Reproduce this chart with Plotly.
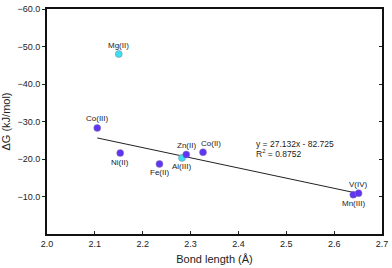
import plotly.graph_objects as go

labels = ["Mg(II)", "Co(III)", "Ni(II)", "Fe(II)", "Al(III)", "Zn(II)", "Co(II)", "Mn(III)", "V(IV)"]
bond_length = [2.150, 2.105, 2.153, 2.235, 2.282, 2.291, 2.326, 2.640, 2.651]
delta_g = [-48.0, -28.3, -21.6, -18.7, -20.3, -21.2, -21.8, -10.5, -10.9]
group = ["cyan", "purple", "purple", "purple", "cyan", "purple", "purple", "purple", "purple"]
label_side = ["above", "above", "below", "below", "below", "above", "above", "below", "above"]
label_dx = [0, 0, 0, 0, 0, 0, 8, 0, 0]

slope = 27.132
intercept = -82.725
r2 = 0.8752

x_ticks = [2.0, 2.1, 2.2, 2.3, 2.4, 2.5, 2.6, 2.7]
y_ticks = [-60, -50, -40, -30, -20, -10]

colors = {"purple": "#6034f2", "cyan": "#3ddff2"}
font = "Liberation Sans, Arial, sans-serif"

fig = go.Figure()

x0, x1 = min(bond_length[1:]), max(bond_length)
fig.add_trace(go.Scatter(
    x=[x0, x1], y=[slope * x0 + intercept, slope * x1 + intercept],
    mode="lines", line=dict(color="#222222", width=1), showlegend=False, hoverinfo="skip"))

fig.add_trace(go.Scatter(
    x=bond_length, y=delta_g, mode="markers",
    marker=dict(size=7, color=[colors[g] for g in group],
                line=dict(width=0.5, color="#8080a0")),
    showlegend=False))

for lab, bx, dg, side, dx in zip(labels, bond_length, delta_g, label_side, label_dx):
    fig.add_annotation(x=bx, y=dg, xref="x", yref="y", text=lab, showarrow=False,
                       xanchor="center", yanchor="middle",
                       xshift=dx, yshift=9 if side == "above" else -9,
                       font=dict(family=font, size=8, color="#222222"))

# invisible trace for right axis
fig.add_trace(go.Scatter(x=[2.0], y=[-60], yaxis="y2", mode="markers",
                         marker=dict(opacity=0), showlegend=False, hoverinfo="skip"))

fig.add_annotation(x=2.433, y=-24.1, xref="x", yref="y", showarrow=False,
                   xanchor="left", yanchor="middle",
                   text=f"y = {slope}x - {abs(intercept)}",
                   font=dict(family=font, size=8.5, color="#222222"))
fig.add_annotation(x=2.433, y=-21.4, xref="x", yref="y", showarrow=False,
                   xanchor="left", yanchor="middle",
                   text=f"R<sup>2</sup> = {r2}",
                   font=dict(family=font, size=8.5, color="#222222"))

fig.update_layout(
    width=392, height=268,
    margin=dict(l=44, r=6, t=4, b=34),
    paper_bgcolor="white", plot_bgcolor="white",
    font=dict(family=font, size=9, color="#222222"),
    xaxis=dict(range=[2.0, 2.7], tickvals=x_ticks, tickformat=".1f",
               ticks="inside", ticklen=3, tickwidth=1, tickcolor="#222",
               showline=True, linewidth=2, linecolor="#111", mirror=True,
               showgrid=False, zeroline=False, ticklabeloverflow="allow",
               title=dict(text="Bond length (Å)", font=dict(size=11), standoff=8),
               tickfont=dict(size=9)),
    yaxis=dict(range=[0, -60], tickvals=y_ticks, tickformat=".1f",
               ticks="outside", ticklen=3, tickwidth=1, tickcolor="#222",
               showline=True, linewidth=2, linecolor="#111",
               showgrid=False, zeroline=False, ticklabeloverflow="allow",
               title=dict(text="ΔG (kJ/mol)", font=dict(size=11), standoff=6),
               tickfont=dict(size=9)),
    yaxis2=dict(range=[0, -60], tickvals=y_ticks, overlaying="y", side="right",
                ticks="inside", ticklen=3, tickwidth=1, tickcolor="#222",
                showticklabels=False, showline=True, linewidth=1.5, linecolor="#111",
                showgrid=False, zeroline=False),
)

fig.write_html("out.html", config={"displayModeBar": False},
               post_script="document.body.style.margin='0';document.body.style.padding='0';")
